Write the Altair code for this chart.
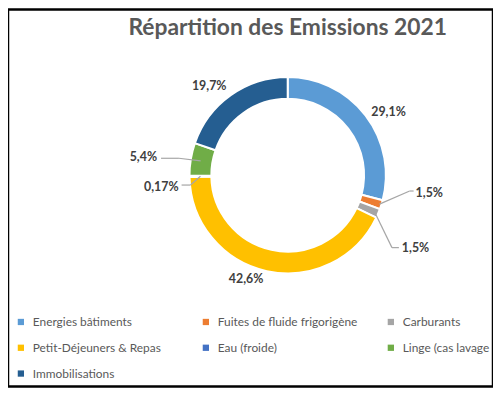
import math
import pandas as pd
import altair as alt

# ---------------- data ----------------
categories = [
    "Energies bâtiments",
    "Fuites de fluide frigorigène",
    "Carburants",
    "Petit-Déjeuners & Repas",
    "Eau (froide)",
    "Linge (cas lavage",
    "Immobilisations",
]
values = [29.1, 1.5, 1.5, 42.6, 0.17, 5.4, 19.7]
value_labels = ["29,1%", "1,5%", "1,5%", "42,6%", "0,17%", "5,4%", "19,7%"]
colors = ["#5B9BD5", "#ED7D31", "#A5A5A5", "#FFC000", "#4472C4", "#70AD47", "#255E91"]
title_text = "Répartition des Emissions 2021"

# ---------------- layout ----------------
W, H = 489, 380
CX, CY = 282, 167
R_OUT, R_IN = 99, 77
FONT = "Lato"
TXT = "#595959"
LBL = "#404040"

label_layout = [
    dict(kind="center", r=120, shift=5.5, ty=0),
    dict(kind="left", anchor_r=97, elbow_r=124, elbow_shift=-10.1, hline=4, gap=6, ty=2),
    dict(kind="left", anchor_r=95, elbow_r=128, elbow_shift=11.9, hline=7, gap=10, ty=0),
    dict(kind="center", r=113, shift=9.5, ty=0),
    dict(kind="right", anchor_r=88, elbow_r=98.5, elbow_shift=-5.1, hline=9, gap=12, ty=2),
    dict(kind="right", anchor_r=89, elbow_r=111, elbow_shift=-0.5, hline=18, gap=22, ty=-1),
    dict(kind="center", r=120, shift=-5.8, ty=0),
]


def polar(r, deg):
    a = math.radians(deg)
    return CX + r * math.sin(a), CY - r * math.cos(a)


total = sum(values)
cum = 0.0
text_rows, seg_rows = [], []
for i, (cat, v, lab) in enumerate(zip(categories, values, value_labels)):
    mid = (cum + v / 2) / total * 360
    cum += v
    L = label_layout[i]
    if L["kind"] == "center":
        x, y = polar(L["r"], mid + L["shift"])
        text_rows.append(dict(kind="center", x=x, y=y + L["ty"], t=lab))
    else:
        ax, ay = polar(L["anchor_r"], mid)
        ex, ey = polar(L["elbow_r"], mid + L["elbow_shift"])
        sign = 1 if L["kind"] == "left" else -1
        hx = ex + sign * L["hline"]
        seg_rows.append(dict(x=ax, y=ay, x2=ex, y2=ey))
        seg_rows.append(dict(x=ex, y=ey, x2=hx, y2=ey))
        text_rows.append(dict(kind=L["kind"], x=ex + sign * L["gap"], y=ey + L["ty"], t=lab))

df = pd.DataFrame({"cat": categories, "val": values, "order": list(range(len(values)))})
df_txt = pd.DataFrame(text_rows)
df_seg = pd.DataFrame(seg_rows)

legend = alt.Legend(
    orient="none", legendX=7, legendY=309, columns=3, direction="horizontal",
    title=None, symbolType="square", symbolSize=40, symbolStrokeWidth=0,
    labelFont=FONT, labelFontSize=12, labelColor=TXT, labelLimit=400,
    columnPadding=27.5, rowPadding=14, gridAlign="all", labelOffset=6,
)

arcs = alt.Chart(df).mark_arc(
    radius=R_OUT, innerRadius=R_IN, stroke="white", strokeWidth=2
).encode(
    theta=alt.Theta("val:Q", stack=True),
    order=alt.Order("order:Q"),
    color=alt.Color("cat:N", scale=alt.Scale(domain=categories, range=colors),
                    legend=legend),
    x=alt.value(CX), y=alt.value(CY),
)

segs = alt.Chart(df_seg).mark_rule(color="#A6A6A6", strokeWidth=1.2).encode(
    x=alt.X("x:Q", scale=None), y=alt.Y("y:Q", scale=None),
    x2="x2:Q", y2="y2:Q",
)


def text_layer(kind, align):
    return alt.Chart(df_txt).transform_filter(alt.datum.kind == kind).mark_text(
        align=align, baseline="middle", font=FONT, fontSize=12.5,
        fontWeight="bold", color=LBL,
    ).encode(x=alt.X("x:Q", scale=None), y=alt.Y("y:Q", scale=None), text="t:N")


title = alt.Chart(pd.DataFrame({"t": [title_text]})).mark_text(
    align="center", baseline="middle", font=FONT, fontSize=23,
    fontWeight="bold", color=TXT,
).encode(x=alt.value(282), y=alt.value(19), text="t:N")

chart = alt.layer(
    arcs, segs, text_layer("center", "center"), text_layer("left", "left"),
    text_layer("right", "right"), title,
).properties(
    width=W, height=H, autosize=alt.AutoSizeParams(type="none"), padding=0,
).configure_view(stroke="black", strokeWidth=2.5)

chart.save("out.html", embed_options={"renderer": "svg", "actions": False})
